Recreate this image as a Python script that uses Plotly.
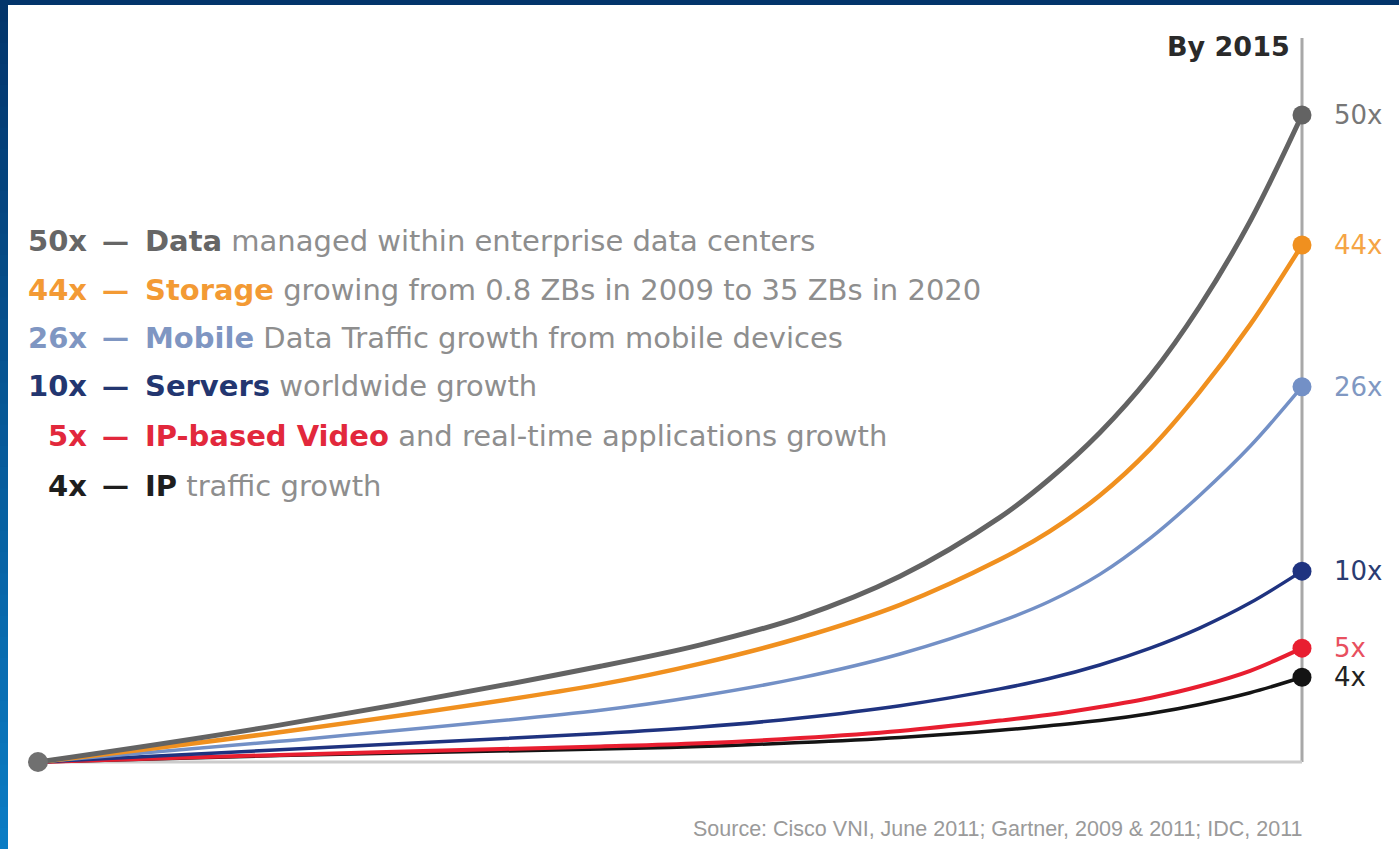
import plotly.graph_objects as go

# ---- data ----
# x: share of the period (0 = start, 100 = 2015); y: relative growth height (0 = start, 100 = 50x end point)
x_pos = [0, 19.1, 44.5, 52.4, 60.3, 68.2, 76.1, 80.0, 84.0, 88.0, 91.9, 95.9, 100]
data_vals = [0, 5.7, 14.8, 18.1, 22.4, 28.7, 37.8, 43.7, 50.9, 59.7, 70.4, 83.6, 100]
storage_vals = [0, 4.6, 12.0, 15.2, 19.2, 24.3, 31.3, 35.6, 41.2, 48.4, 57.2, 67.6, 79.9]
mobile_vals = [0, 3.2, 8.0, 10.2, 13.0, 16.7, 21.7, 24.8, 29.0, 34.6, 41.2, 48.8, 58.0]
servers_vals = [0, 1.9, 4.4, 5.4, 6.8, 8.7, 11.3, 12.9, 15.0, 17.6, 20.7, 24.6, 29.5]
video_vals = [0, 1.1, 2.4, 2.9, 3.7, 4.8, 6.4, 7.3, 8.5, 9.9, 11.7, 14.1, 17.6]
ip_vals = [0, 1.0, 2.0, 2.4, 3.0, 3.8, 4.9, 5.6, 6.4, 7.5, 8.9, 10.7, 13.1]

multipliers = ["50x", "44x", "26x", "10x", "5x", "4x"]
keywords = ["Data", "Storage", "Mobile", "Servers", "IP-based Video", "IP"]
descriptions = [
    "managed within enterprise data centers",
    "growing from 0.8 ZBs in 2009 to 35 ZBs in 2020",
    "Data Traffic growth from mobile devices",
    "worldwide growth",
    "and real-time applications growth",
    "traffic growth",
]
end_label = "By 2015"
source_text = "Source: Cisco VNI, June 2011; Gartner, 2009 & 2011; IDC, 2011"

series = [data_vals, storage_vals, mobile_vals, servers_vals, video_vals, ip_vals]
colors = ["#636363", "#F0901F", "#7390C6", "#1F3380", "#E81E30", "#141414"]
label_colors = ["#666666", "#F39A34", "#7F96C2", "#233670", "#E2283C", "#1E1E1E"]
end_label_colors = ["#777777", "#F5A445", "#8098C2", "#2A3C72", "#E8505F", "#222222"]
widths = [5, 4.5, 3.5, 3.5, 4, 3.5]

W, H = 1399, 849
FONT = "DejaVu Sans"
fig = go.Figure()

# draw from bottom series up so the top curves sit above
for vals, c, w in reversed(list(zip(series, colors, widths))):
    fig.add_trace(go.Scatter(x=x_pos, y=vals, mode="lines",
                             line=dict(color=c, width=w, shape="spline", smoothing=1.0),
                             hoverinfo="skip", showlegend=False))

# end markers
fig.add_trace(go.Scatter(x=[x_pos[-1]] * len(series), y=[s[-1] for s in series],
                         mode="markers", marker=dict(color=colors, size=19),
                         hoverinfo="skip", showlegend=False))
# start marker
fig.add_trace(go.Scatter(x=[x_pos[0]], y=[series[0][0]], mode="markers",
                         marker=dict(color="#707070", size=20),
                         hoverinfo="skip", showlegend=False))

# axis lines (vertical at end, baseline)
fig.add_shape(type="line", x0=x_pos[-1], x1=x_pos[-1], y0=0, y1=111.9,
              line=dict(color="#A8A8A8", width=3), layer="below")
fig.add_shape(type="line", x0=x_pos[0], x1=x_pos[-1], y0=0, y1=0,
              line=dict(color="#CCCCCC", width=3), layer="below")

# right-hand labels
for s, m, lc in zip(series, multipliers, end_label_colors):
    fig.add_annotation(x=x_pos[-1], y=s[-1], text=m, showarrow=False,
                       xanchor="left", yanchor="middle", xshift=30,
                       font=dict(family=FONT, size=26, color=lc))

fig.add_annotation(xref="paper", yref="paper", x=1292 / W, y=1 - 46 / H,
                   text="<b>" + end_label + "</b>", showarrow=False,
                   xanchor="right", yanchor="middle",
                   font=dict(family=FONT, size=27, color="#2A2A2A"))

# legend block (left)
line_y = [241, 290, 338, 386, 436, 486]
for m, k, d, lc, py in zip(multipliers, keywords, descriptions, label_colors, line_y):
    yp = 1 - py / H
    fig.add_annotation(xref="paper", yref="paper", x=89 / W, y=yp, text="<b>" + m + "</b>",
                       showarrow=False, xanchor="right", yanchor="middle",
                       font=dict(family=FONT, size=29, color=lc))
    fig.add_annotation(xref="paper", yref="paper", x=100 / W, y=yp, text="<b>—</b>",
                       showarrow=False, xanchor="left", yanchor="middle",
                       font=dict(family=FONT, size=27, color=lc))
    fig.add_annotation(xref="paper", yref="paper", x=143 / W, y=yp,
                       text="<b>" + k + "</b> <span style='color:#8E8E8E'>" + d + "</span>",
                       showarrow=False, xanchor="left", yanchor="middle",
                       font=dict(family=FONT, size=29, color=lc))

fig.add_annotation(xref="paper", yref="paper", x=1305 / W, y=1 - 829 / H, text=source_text,
                   showarrow=False, xanchor="right", yanchor="middle",
                   font=dict(family="Liberation Sans", size=21.5, color="#9A9A9A"))

# slide border (top band and left gradient band)
fig.add_shape(type="rect", xref="paper", yref="paper", x0=0, x1=1, y0=1 - 5 / H, y1=1,
              fillcolor="#03356B", line_width=0, layer="above")
n = 40
c0 = (3, 53, 107)
c1 = (10, 124, 196)
for i in range(n):
    t = i / (n - 1)
    col = "rgb(%d,%d,%d)" % tuple(round(a + (b - a) * t) for a, b in zip(c0, c1))
    fig.add_shape(type="rect", xref="paper", yref="paper", x0=0, x1=8 / W,
                  y0=max(0, 1 - (i + 1.6) / n), y1=1 - i / n, fillcolor=col, line_width=0,
                  layer="above")

# axes ranges mapped to the picture's layout
x_span = 100 * W / 1264
x_lo = -38 * x_span / W
y_unit = 6.47
y_top = 100 + 115 / y_unit
y_lo = y_top - H / y_unit

fig.update_xaxes(range=[x_lo, x_lo + x_span], visible=False, fixedrange=True)
fig.update_yaxes(range=[y_lo, y_top], visible=False, fixedrange=True)
fig.update_layout(width=W, height=H, margin=dict(l=0, r=0, t=0, b=0),
                  paper_bgcolor="white", plot_bgcolor="white", showlegend=False)

fig.write_html("out.html", config={"displayModeBar": False})
